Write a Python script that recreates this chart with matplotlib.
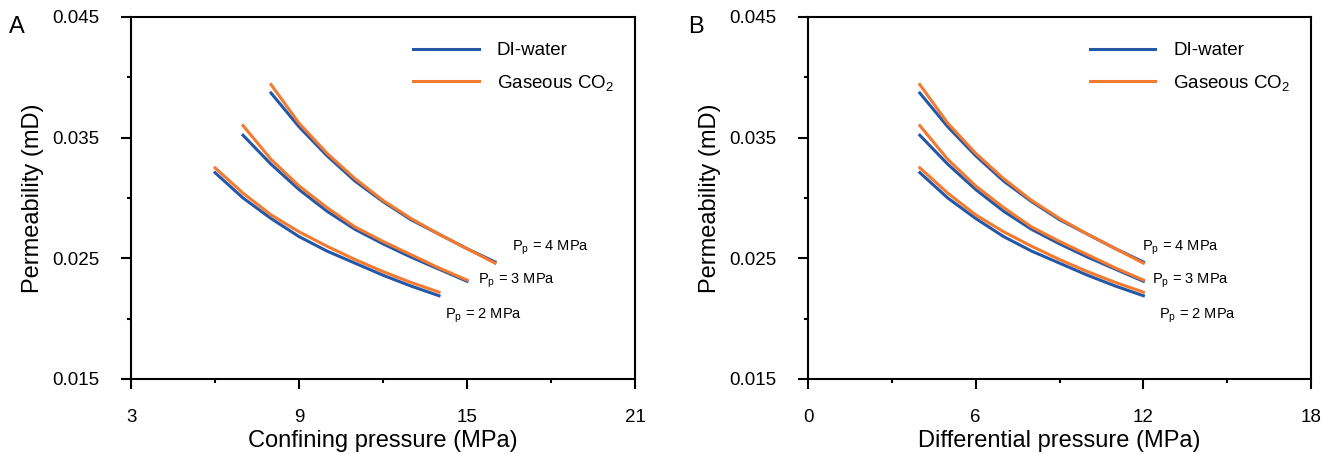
import numpy as np
import matplotlib
matplotlib.use('Agg')
from matplotlib import pyplot as plt
from matplotlib.ticker import MultipleLocator, FormatStrFormatter

plt.rcParams['font.family'] = ['Liberation Sans', 'DejaVu Sans']
plt.rcParams['mathtext.default'] = 'regular'

# Differential pressure steps (MPa) and pore pressures
diff_pressure = [4, 5, 6, 7, 8, 9, 10, 11, 12]
pore_pressures = [2, 3, 4]

# Permeability (mD), DI-water
water_pp2 = [0.0321, 0.0300, 0.0283, 0.0268, 0.0256, 0.0246, 0.0236, 0.0227, 0.0219]
water_pp3 = [0.0352, 0.0328, 0.0307, 0.0289, 0.0274, 0.0262, 0.0251, 0.0241, 0.0231]
water_pp4 = [0.0387, 0.0359, 0.0335, 0.0314, 0.0297, 0.0282, 0.0270, 0.0258, 0.0247]

# Permeability (mD), gaseous CO2
co2_pp2 = [0.0325, 0.0304, 0.0286, 0.0272, 0.0260, 0.0249, 0.0239, 0.0230, 0.0222]
co2_pp3 = [0.0360, 0.0332, 0.0310, 0.0292, 0.0276, 0.0264, 0.0253, 0.0242, 0.0232]
co2_pp4 = [0.0394, 0.0362, 0.0337, 0.0316, 0.0298, 0.0283, 0.0270, 0.0258, 0.0246]

water = [water_pp2, water_pp3, water_pp4]
co2 = [co2_pp2, co2_pp3, co2_pp4]

blue = '#2458a6'
orange = '#f47a30'

fig = plt.figure(figsize=(13.29, 4.54), dpi=100)
ax_a = fig.add_axes([0.0986, 0.1652, 0.3792, 0.7974])
ax_b = fig.add_axes([0.6080, 0.1652, 0.3785, 0.7974])

d = np.array(diff_pressure)

for ax, shift in [(ax_a, True), (ax_b, False)]:
    for pp, w, c in zip(pore_pressures, water, co2):
        x = d + pp if shift else d
        ax.plot(x, w, color=blue, lw=2.2, label='DI-water')
        ax.plot(x, c, color=orange, lw=2.2, label='Gaseous CO$_2$')

    ax.set_ylim(0.015, 0.045)
    ax.yaxis.set_major_locator(MultipleLocator(0.01, offset=0.005))
    ax.yaxis.set_minor_locator(MultipleLocator(0.005))
    ax.xaxis.set_major_locator(MultipleLocator(6, offset=3 if shift else 0))
    ax.xaxis.set_minor_locator(MultipleLocator(3))
    ax.yaxis.set_major_formatter(FormatStrFormatter('%.3f'))
    ax.tick_params(which='major', direction='out', length=7.5, width=1.5, labelsize=13.5)
    ax.tick_params(axis='x', which='major', pad=14)
    ax.tick_params(axis='y', which='major', pad=15)
    ax.tick_params(which='minor', direction='out', length=3, width=1.5)
    for s in ax.spines.values():
        s.set_linewidth(1.5)
    ax.set_ylabel('Permeability (mD)', fontsize=17, labelpad=6)

    h, l = ax.get_legend_handles_labels()
    ax.legend(h[:2], l[:2], loc='upper left', bbox_to_anchor=(0.56, 0.93),
              frameon=False, fontsize=13.5, handlelength=3.5, handletextpad=0.95,
              labelspacing=0.7, borderpad=0, borderaxespad=0)

ax_a.set_xlim(3, 21)
ax_b.set_xlim(0, 18)
ax_a.set_xlabel('Confining pressure (MPa)', fontsize=17, labelpad=3)
ax_b.set_xlabel('Differential pressure (MPa)', fontsize=17, labelpad=3)

# Pore pressure labels
ann_a = [(14.2, 0.0202), (15.4, 0.0231), (16.6, 0.0259)]
ann_b = [(12.55, 0.0202), (12.3, 0.0231), (11.95, 0.0259)]
for pp, (xa, ya), (xb, yb) in zip(pore_pressures, ann_a, ann_b):
    txt = 'P$_p$ = %d MPa' % pp
    ax_a.text(xa, ya, txt, fontsize=10.5, ha='left', va='center')
    ax_b.text(xb, yb, txt, fontsize=10.5, ha='left', va='center')

fig.text(0.0068, 0.9405, 'A', fontsize=17, ha='left', va='center')
fig.text(0.5177, 0.9405, 'B', fontsize=17, ha='left', va='center')

fig.savefig('out.png', dpi=100)
